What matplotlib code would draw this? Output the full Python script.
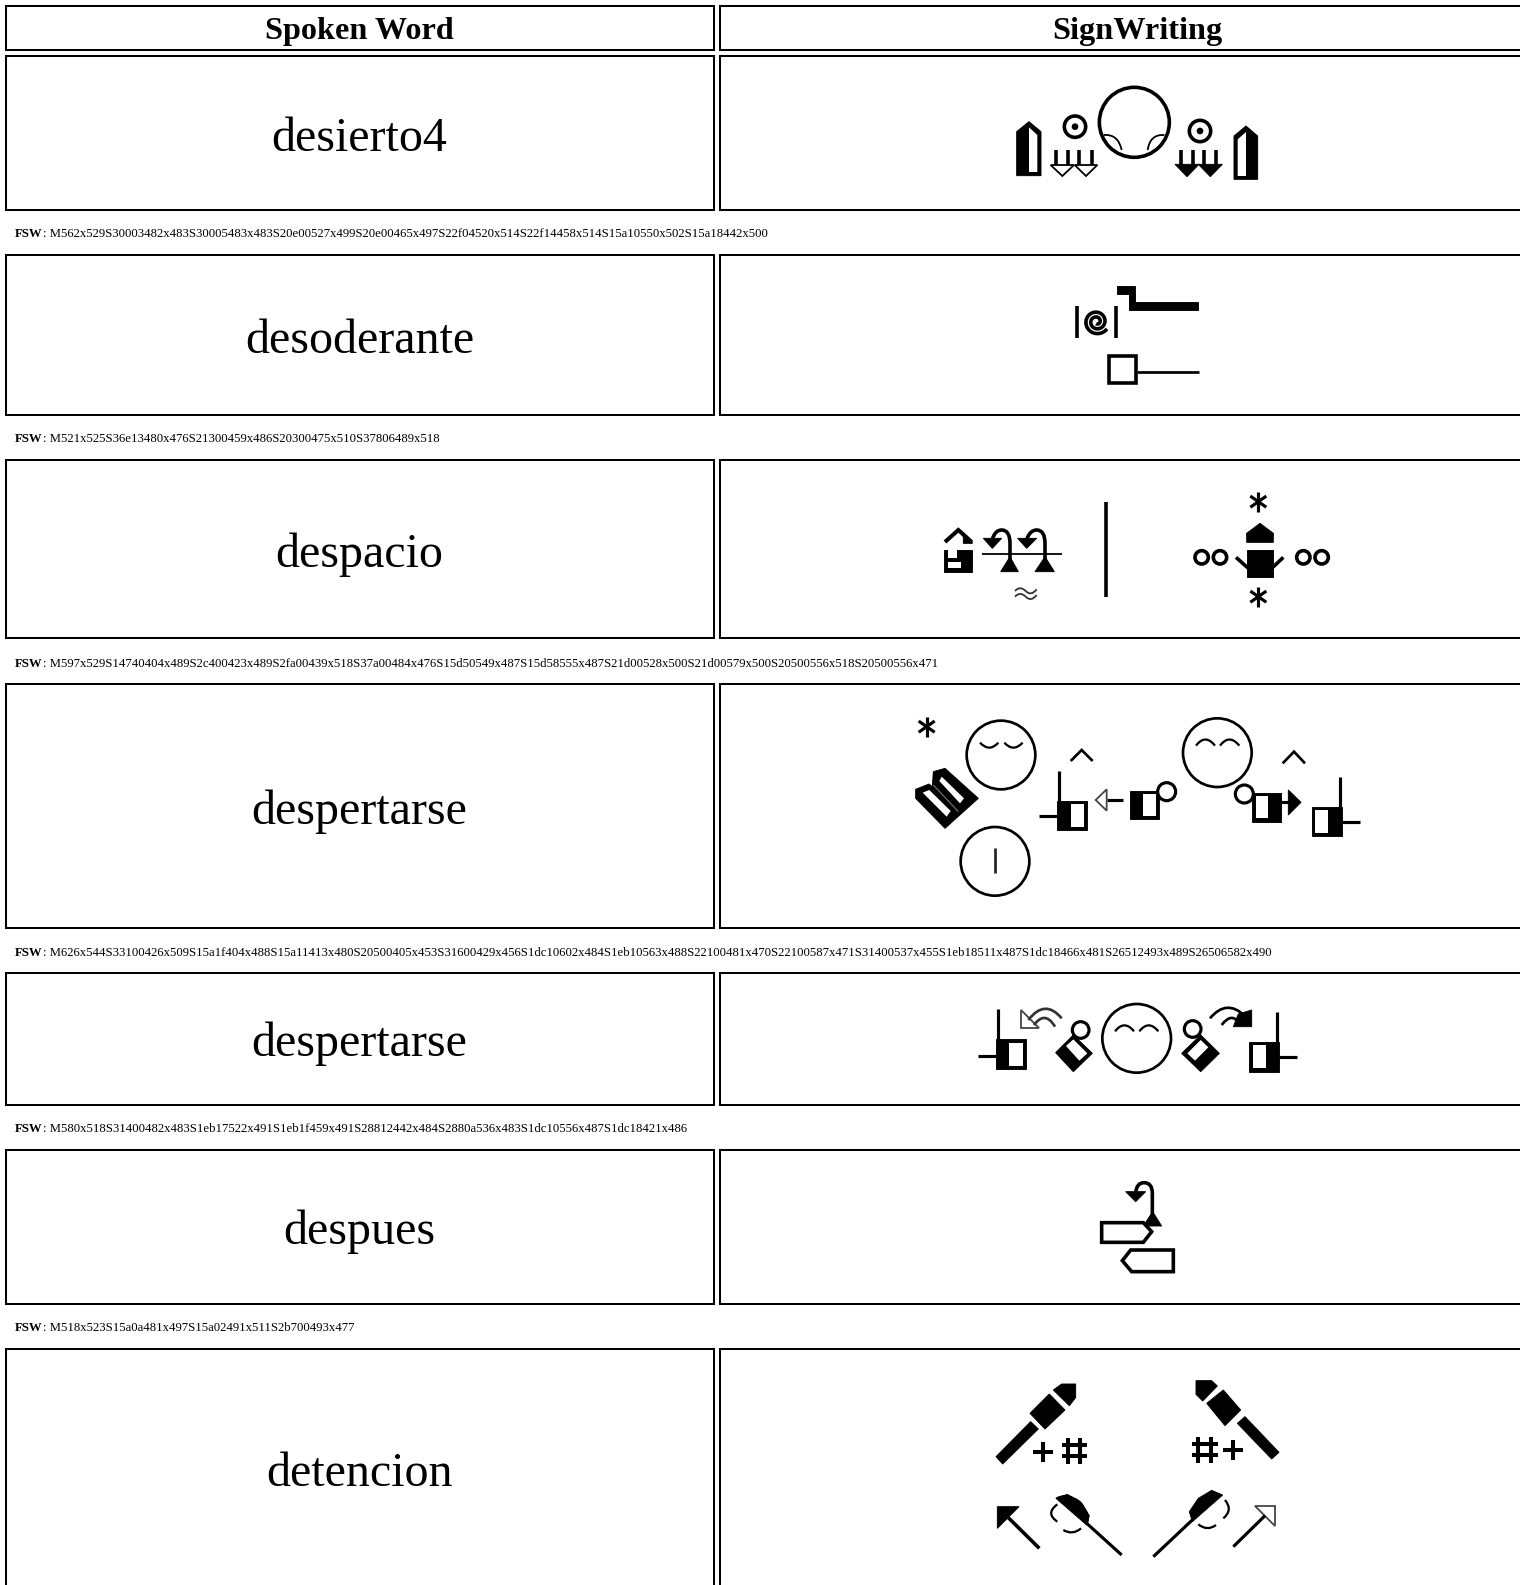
# Spoken word / SignWriting table
import numpy as np
import matplotlib
matplotlib.use('Agg')
import matplotlib.pyplot as plt
from matplotlib.patches import Rectangle, Circle, Polygon, PathPatch
from matplotlib.path import Path

# Table contents
headers = ['Spoken Word', 'SignWriting']
words = ['desierto4', 'desoderante', 'despacio', 'despertarse', 'despertarse', 'despues', 'detencion']
fsw = [
    'M562x529S30003482x483S30005483x483S20e00527x499S20e00465x497S22f04520x514S22f14458x514S15a10550x502S15a18442x500',
    'M521x525S36e13480x476S21300459x486S20300475x510S37806489x518',
    'M597x529S14740404x489S2c400423x489S2fa00439x518S37a00484x476S15d50549x487S15d58555x487S21d00528x500S21d00579x500S20500556x518S20500556x471',
    'M626x544S33100426x509S15a1f404x488S15a11413x480S20500405x453S31600429x456S1dc10602x484S1eb10563x488S22100481x470S22100587x471S31400537x455S1eb18511x487S1dc18466x481S26512493x489S26506582x490',
    'M580x518S31400482x483S1eb17522x491S1eb1f459x491S28812442x484S2880a536x483S1dc10556x487S1dc18421x486',
    'M518x523S15a0a481x497S15a02491x511S2b700493x477',
    '',
]
row_tops = [56, 254.5, 460, 683.5, 972.5, 1149.5, 1348.5]
row_bottoms = [210, 415, 638, 928, 1105, 1304, 1600]
word_baselines = [151, 353, 567, 824, 1056, 1244, 1486]
fsw_baselines = [237, 442, 667, 956, 1132, 1331]

W, H = 1520, 1585
fig = plt.figure(figsize=(W / 100, H / 100), dpi=100)
ax = fig.add_axes([0, 0, 1, 1])
ax.set_xlim(0, W)
ax.set_ylim(H, 0)
ax.axis('off')
serif = 'Liberation Serif'

# glyph helpers take coordinates at 3x around an origin
ox, oy = 0, 0


def lw_(w):
    return w / 3 * 0.72 * 1.35


def P(pts):
    return [(ox + x / 3, oy + y / 3) for x, y in pts]


def poly(pts, fc='k', ec=None, w=2):
    if ec is None:
        ec = fc if fc == 'k' else 'none'
    ax.add_patch(Polygon(P(pts), closed=True, fc=fc, ec=ec, lw=lw_(w), joinstyle='miter', zorder=3))


def line(pts, w=7, c='k'):
    xy = np.array(P(pts))
    ax.plot(xy[:, 0], xy[:, 1], color=c, lw=lw_(w), solid_capstyle='butt', solid_joinstyle='miter', zorder=3)


def curve(pts, w=7, c='k'):
    codes = [Path.MOVETO] + [Path.CURVE3] * (len(pts) - 1)
    ax.add_patch(PathPatch(Path(P(pts), codes), fc='none', ec=c, lw=lw_(w), capstyle='butt', zorder=3))


def ring(x, y, r, w=7, fc='white'):
    ax.add_patch(Circle(P([(x, y)])[0], r / 3, fc=fc, ec='k', lw=lw_(w), zorder=3))


def dot(x, y, r):
    ax.add_patch(Circle(P([(x, y)])[0], r / 3, fc='k', ec='none', zorder=4))


def rect(x0, y0, x1, y1, fc='k'):
    poly([(x0, y0), (x1, y0), (x1, y1), (x0, y1)], fc=fc)


def star(x, y, r=30, w=7):
    d = r * 0.8
    line([(x, y - r), (x, y + r)], w)
    line([(x - d, y - d * 0.7), (x + d, y + d * 0.7)], w)
    line([(x - d, y + d * 0.7), (x + d, y - d * 0.7)], w)


def hash_(x, y):
    line([(x - 20, y - 38), (x - 20, y + 38)], 9)
    line([(x + 18, y - 38), (x + 18, y + 38)], 9)
    line([(x - 38, y - 18), (x + 38, y - 18)], 9)
    line([(x - 38, y + 15), (x + 38, y + 15)], 9)


def plus(x, y):
    line([(x - 30, y), (x + 30, y)], 9)
    line([(x, y - 30), (x, y + 30)], 9)


# Table cells
for top, bottom in zip([5.5] + row_tops, [50] + row_bottoms):
    for x0, x1 in [(5.5, 714), (719.5, 1600)]:
        ax.add_patch(Rectangle((x0, top), x1 - x0, bottom - top, fc='white', ec='k', lw=1.45, zorder=1))

for x, label in zip([359.5, 1137], headers):
    ax.text(x, 39.5, label, family=serif, weight='bold', fontsize=23.2, ha='center', va='baseline', color='k')
for word, base in zip(words, word_baselines):
    ax.text(359.5, base, word, family=serif, fontsize=34.6, ha='center', va='baseline', color='k')

renderer = fig.canvas.get_renderer()
for code, base in zip(fsw, fsw_baselines):
    t = ax.text(15, base, 'FSW', family=serif, weight='bold', fontsize=9.2, va='baseline', color='k')
    x_end = ax.transData.inverted().transform(t.get_window_extent(renderer).get_points())[1, 0]
    ax.text(x_end, base, ': ' + code, family=serif, fontsize=9.2, va='baseline', color='k')

# desierto4
ox, oy = 980, 70
poly([(110, 317), (110, 185), (147, 155), (183, 185), (183, 317)])
poly([(147, 172), (172, 195), (172, 306), (147, 306)], fc='white')
poly([(762, 328), (762, 198), (798, 168), (833, 198), (833, 328)])
poly([(773, 208), (798, 186), (798, 318), (773, 318)], fc='white')
ring(285, 170, 32, 8)
dot(285, 170, 10)
ring(660, 183, 32, 8)
dot(660, 183, 10)
ring(463, 157, 105, 8)
curve([(372, 195), (415, 192), (425, 240)], 4)
curve([(553, 195), (510, 192), (503, 240)], 4)
for x in [228, 265, 298, 335]:
    line([(x, 240), (x, 285)], 8)
poly([(212, 285), (282, 285), (247, 318)], fc='white', ec='k', w=4)
poly([(284, 285), (352, 285), (318, 318)], fc='white', ec='k', w=4)
for x in [603, 640, 672, 708]:
    line([(x, 240), (x, 285)], 8)
poly([(585, 283), (657, 283), (621, 320)])
poly([(655, 283), (727, 283), (691, 320)])

# desoderante
ox, oy = 1040, 270
line([(110, 108), (110, 205)], 8)
line([(228, 108), (228, 205)], 8)
t = np.linspace(0, 1, 80)
ang = np.radians(35 + (1 - t) * 2.2 * 360)
rad = 6 + 32 * t
line(list(zip(170 + rad * np.cos(ang), 155 + rad * np.sin(ang))), 8)
poly([(232, 47), (285, 47), (285, 97), (473, 97), (473, 120), (268, 120), (268, 72), (232, 72)])
poly([(207, 258), (288, 258), (288, 340), (207, 340)], fc='white', ec='k', w=8)
line([(292, 307), (478, 307)], 6)

# despacio
ox, oy = 920, 480
line([(75, 186), (115, 150), (155, 186)], 9)
poly([(115, 150), (157, 186), (157, 190), (130, 190), (130, 170)])
rect(73, 210, 157, 275)
rect(83, 208, 110, 235, 'white')
rect(83, 245, 123, 263, 'white')
line([(185, 222), (425, 222)], 4)
poly([(190, 175), (245, 175), (217, 205)])
curve([(217, 178), (225, 150), (245, 150), (270, 150), (270, 190), (270, 215), (270, 250)], 8)
poly([(242, 275), (295, 275), (270, 230)])
poly([(293, 175), (350, 175), (320, 205)])
curve([(320, 178), (330, 150), (350, 150), (375, 150), (375, 190), (375, 215), (375, 250)], 8)
poly([(345, 275), (403, 275), (375, 230)])
curve([(285, 333), (300, 316), (317, 333), (333, 350), (350, 328)], 4, '#333333')
curve([(285, 350), (300, 333), (317, 350), (333, 367), (350, 345)], 4, '#333333')
line([(558, 65), (558, 352)], 8)
star(1015, 65)
star(1015, 350)
for x in [845, 900, 1150, 1205]:
    ring(x, 232, 20, 8)
poly([(980, 187), (980, 160), (1020, 130), (1060, 160), (1060, 187)])
rect(980, 210, 1060, 292)
line([(948, 232), (985, 265)], 8)
line([(1090, 232), (1055, 265)], 8)

# despertarse, first sign
ox, oy = 900, 700
star(80, 80)
ring(303, 165, 103, 6)
curve([(240, 128), (268, 158), (295, 128)], 5)
curve([(313, 128), (340, 158), (368, 128)], 5)
ring(952, 158, 103, 6)
curve([(888, 137), (916, 100), (945, 137)], 5)
curve([(960, 137), (988, 100), (1018, 137)], 5)
ring(285, 484, 103, 6)
line([(286, 445), (286, 518)], 6, '#222222')
poly([(47, 268), (87, 252), (97, 260), (100, 215), (135, 205), (235, 295), (135, 385), (47, 295)])
poly([(68, 278), (88, 270), (152, 333), (140, 350)], fc='white')
poly([(118, 243), (125, 230), (192, 295), (180, 310)], fc='white')
line([(100, 255), (175, 335)], 3, '#666666')
rect(472, 302, 562, 390)
rect(513, 312, 552, 380, 'white')
line([(478, 212), (478, 302)], 7)
line([(418, 348), (472, 348)], 7)
line([(512, 183), (545, 150), (578, 183)], 6)
line([(668, 300), (622, 300)], 7)
poly([(620, 268), (620, 332), (587, 300)], fc='white', ec='#444444', w=4)
rect(690, 272, 778, 358)
rect(730, 282, 768, 348, 'white')
ring(800, 275, 27, 7)
rect(1057, 278, 1143, 365)
rect(1067, 288, 1105, 355, 'white')
ring(1033, 282, 27, 7)
line([(1143, 307), (1170, 307)], 7)
poly([(1165, 270), (1165, 345), (1203, 307)])
line([(1148, 190), (1182, 155), (1215, 190)], 6)
rect(1236, 320, 1325, 408)
rect(1246, 330, 1285, 398, 'white')
line([(1320, 230), (1320, 320)], 7)
line([(1325, 367), (1380, 367)], 7)

# despertarse, second sign
ox, oy = 960, 990
rect(108, 148, 198, 238)
rect(148, 158, 188, 228, 'white')
line([(113, 58), (113, 148)], 7)
line([(55, 197), (108, 197)], 7)
poly([(184, 60), (184, 115), (238, 115)], fc='white', ec='#444444', w=4)
curve([(205, 90), (255, 25), (305, 85)], 6, '#333333')
curve([(222, 105), (255, 60), (285, 110)], 6, '#333333')
poly([(287, 188), (340, 135), (397, 190), (340, 245)])
poly([(318, 168), (340, 148), (382, 190), (358, 212)], fc='white')
ring(362, 120, 25, 7)
ring(530, 145, 103, 6)
curve([(465, 124), (493, 88), (522, 124)], 5)
curve([(538, 124), (566, 88), (595, 124)], 5)
poly([(665, 190), (722, 135), (778, 190), (722, 245)])
poly([(682, 190), (722, 150), (745, 172), (705, 212)], fc='white')
ring(698, 117, 25, 7)
poly([(835, 72), (875, 60), (875, 110), (820, 110)])
curve([(750, 85), (800, 25), (855, 78)], 6)
curve([(785, 105), (815, 65), (838, 100)], 6)
rect(868, 155, 958, 245)
rect(878, 165, 917, 235, 'white')
line([(952, 65), (952, 155)], 7)
line([(958, 200), (1010, 200)], 7)

# despues
ox, oy = 1080, 1170
poly([(137, 65), (197, 65), (167, 95)])
curve([(167, 68), (170, 38), (192, 38), (217, 38), (217, 70), (217, 100), (217, 135)], 8)
poly([(190, 168), (245, 168), (218, 125)])
poly([(65, 158), (190, 158), (215, 185), (190, 217), (65, 217)], fc='white', ec='k', w=8)
poly([(280, 240), (152, 240), (127, 272), (155, 305), (280, 305)], fc='white', ec='k', w=8)

# detencion
ox, oy = 980, 1365
poly([(48, 275), (152, 170), (175, 192), (68, 297)])
poly([(150, 145), (208, 87), (255, 135), (195, 192)])
poly([(220, 75), (245, 57), (287, 57), (287, 98), (268, 122)])
plus(190, 262)
hash_(283, 258)
poly([(772, 175), (795, 155), (897, 262), (875, 282)])
poly([(680, 115), (730, 75), (782, 135), (735, 182)])
poly([(648, 47), (695, 47), (712, 63), (668, 108), (648, 88)])
hash_(675, 255)
plus(760, 255)
poly([(52, 425), (117, 425), (52, 490)])
line([(85, 458), (178, 550)], 8)
curve([(228, 400), (262, 380), (300, 410), (335, 450), (320, 480)], 3)
poly([(228, 400), (262, 388), (305, 415), (328, 452), (320, 480)])
line([(318, 473), (425, 570)], 7)
curve([(232, 418), (195, 445), (232, 470)], 5)
curve([(250, 495), (278, 512), (303, 490)], 5)
poly([(728, 390), (695, 376), (655, 400), (628, 440), (637, 470)])
line([(640, 462), (520, 575)], 7)
curve([(735, 405), (760, 435), (730, 460)], 5)
curve([(655, 478), (682, 500), (708, 480)], 5)
poly([(825, 422), (885, 422), (885, 482)], fc='white', ec='#444444', w=4)
line([(855, 452), (760, 545)], 7)

plt.savefig('out.png', dpi=100)
